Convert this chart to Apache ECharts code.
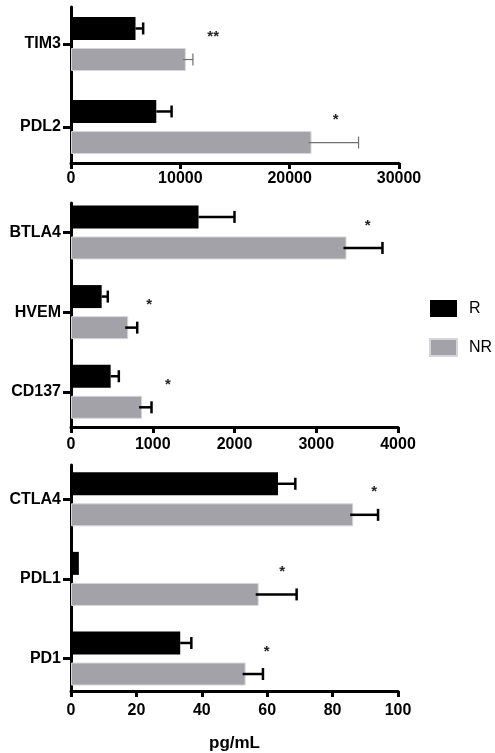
<!DOCTYPE html>
<html><head><meta charset="utf-8">
<script src="https://cdn.jsdelivr.net/npm/echarts@6/dist/echarts.min.js"></script>
<style>html,body{margin:0;padding:0;background:#fff}#c{width:495px;height:753px}</style>
</head><body><div id="c"></div>
<script>
// ---- Panel A ----
const catsA = ['TIM3', 'PDL2'];
const rA = [5900, 7800];
const rErrA = [700, 1400];
const nrA = [10500, 22000];
const nrErrA = [650, 4300];
const starA = ['**', '*'];
const starXA = [13000, 24200];
const ticksA = [0, 10000, 20000, 30000];
// ---- Panel B ----
const catsB = ['BTLA4', 'HVEM', 'CD137'];
const rB = [1560, 375, 485];
const rErrB = [440, 75, 100];
const nrB = [3370, 700, 870];
const nrErrB = [440, 110, 115];
const starB = ['*', '*', '*'];
const starXB = [3630, 955, 1185];
const ticksB = [0, 1000, 2000, 3000, 4000];
// ---- Panel C ----
const catsC = ['CTLA4', 'PDL1', 'PD1'];
const rC = [63.3, 2.4, 33.4];
const rErrC = [5.3, 0, 3.4];
const nrC = [86.3, 57.4, 53.4];
const nrErrC = [7.6, 11.6, 5.3];
const starC = ['*', '*', '*'];
const starXC = [92.7, 64.6, 59.8];
const ticksC = [0, 20, 40, 60, 80, 100];

const legendNames = ['R', 'NR'];
const xName = 'pg/mL';

const FONT = '"Liberation Sans", Arial, Helvetica, sans-serif';
const GRAY = '#a3a2a8';

const panels = [
  { cats: catsA, r: rA, rErr: rErrA, nr: nrA, nrErr: nrErrA, star: starA, starX: starXA, ticks: ticksA,
    axisBox: { left: 71, top: 7, width: 328, height: 156 },
    barBox: { left: 71, top: 2.5, width: 328, height: 166 },
    labelMargin: 8, nrErrStyle: { color: '#6e6e6e', width: 1.2 } },
  { cats: catsB, r: rB, rErr: rErrB, nr: nrB, nrErr: nrErrB, star: starB, starX: starXB, ticks: ticksB,
    axisBox: { left: 71, top: 203, width: 327, height: 224 },
    barBox: { left: 71, top: 192.6, width: 327, height: 239 },
    labelMargin: 10, nrErrStyle: { color: '#000', width: 2.5 } },
  { cats: catsC, r: rC, rErr: rErrC, nr: nrC, nrErr: nrErrC, star: starC, starX: starXC, ticks: ticksC,
    axisBox: { left: 71, top: 465, width: 327, height: 227 },
    barBox: { left: 71, top: 459.5, width: 327, height: 238.8 },
    labelMargin: 12, nrErrStyle: { color: '#000', width: 2.5 }, name: xName }
];

const BAR_W = 23, BAR_GAP = 0.35;
const OFF = BAR_W / 2 + BAR_W * BAR_GAP / 2;

const grid = [], xAxis = [], yAxis = [], series = [];

function errSeries(ai, data, cats, errs, offset, style, inset) {
  return {
    type: 'custom', xAxisIndex: ai, yAxisIndex: ai, silent: true, z: 3,
    data: data.map((v, k) => [v, cats[k], errs[k]]),
    renderItem: function (params, api) {
      const v = api.value(0), e = api.value(2), c = api.value(1);
      if (!e) return null;
      const p0 = api.coord([v, c]);
      const p1 = api.coord([v + e, c]);
      const y = p0[1] + offset;
      const ls = { stroke: style.color, lineWidth: style.width };
      return {
        type: 'group',
        children: [
          { type: 'line', shape: { x1: p0[0] - inset, y1: y, x2: p1[0], y2: y }, style: ls },
          { type: 'line', shape: { x1: p1[0], y1: y - 6, x2: p1[0], y2: y + 6 }, style: ls }
        ]
      };
    }
  };
}

panels.forEach((p, i) => {
  const ag = 2 * i, bg = 2 * i + 1;
  grid.push(Object.assign({}, p.axisBox));
  grid.push(Object.assign({}, p.barBox));
  const tmin = p.ticks[0], tmax = p.ticks[p.ticks.length - 1], tint = p.ticks[1] - p.ticks[0];
  xAxis.push({
    type: 'value', gridIndex: ag, min: tmin, max: tmax, interval: tint,
    axisLine: { show: true, lineStyle: { color: '#000', width: 3 } },
    axisTick: { show: true, length: 6, lineStyle: { color: '#000', width: 3 } },
    axisLabel: { margin: p.labelMargin, fontSize: 16, fontWeight: 'bold', color: '#000', fontFamily: FONT,
      formatter: v => String(v) },
    splitLine: { show: false },
    name: p.name || '', nameLocation: 'middle', nameGap: 44,
    nameTextStyle: { fontSize: 17, fontWeight: 'bold', color: '#000', fontFamily: FONT }
  });
  xAxis.push({ type: 'value', gridIndex: bg, min: tmin, max: tmax, show: false });
  yAxis.push({
    type: 'value', gridIndex: ag, min: 0, max: 1,
    axisLine: { show: true, onZero: false, lineStyle: { color: '#000', width: 3 } },
    axisTick: { show: false }, axisLabel: { show: false }, splitLine: { show: false }
  });
  yAxis.push({
    type: 'category', gridIndex: bg, data: p.cats, inverse: true,
    axisLine: { show: false },
    axisTick: { show: true, alignWithLabel: true, length: 8, lineStyle: { color: '#000', width: 3 } },
    axisLabel: { margin: 10, fontSize: 16, fontWeight: 'bold', color: '#000', fontFamily: FONT }
  });
  series.push({
    type: 'bar', name: legendNames[0], xAxisIndex: bg, yAxisIndex: bg, data: p.r,
    barWidth: BAR_W, barGap: (BAR_GAP * 100) + '%', itemStyle: { color: '#000' }, z: 2
  });
  series.push({
    type: 'bar', name: legendNames[1], xAxisIndex: bg, yAxisIndex: bg, data: p.nr,
    barWidth: BAR_W, barGap: (BAR_GAP * 100) + '%',
    itemStyle: { color: GRAY, borderColor: '#d6d6d8', borderWidth: 1 }, z: 2
  });
  series.push(errSeries(bg, p.r, p.cats, p.rErr, -OFF, { color: '#000', width: 2.5 }, 0));
  series.push(errSeries(bg, p.nr, p.cats, p.nrErr, OFF, p.nrErrStyle, 3));
  series.push({
    type: 'custom', xAxisIndex: bg, yAxisIndex: bg, silent: true, z: 4,
    data: p.starX.map((x, k) => [x, p.cats[k]]),
    renderItem: function (params, api) {
      const pt = api.coord([api.value(0), api.value(1)]);
      return {
        type: 'text', x: pt[0], y: pt[1] - 7,
        style: { text: p.star[params.dataIndex], fill: '#222', font: 'bold 15px ' + FONT,
          align: 'center', verticalAlign: 'middle' }
      };
    }
  });
});

const chart = echarts.init(document.getElementById('c'), null, { renderer: 'canvas' });
chart.setOption({
  animation: false,
  backgroundColor: '#fff',
  grid, xAxis, yAxis, series,
  legend: {
    data: legendNames, orient: 'vertical', left: 424, top: 295,
    itemWidth: 27, itemHeight: 17, itemGap: 21, icon: 'rect',
    textStyle: { fontSize: 16, lineHeight: 17, color: '#000', fontFamily: FONT, padding: [0, 0, 0, 7] },
    selectedMode: false
  }
});
</script></body></html>
